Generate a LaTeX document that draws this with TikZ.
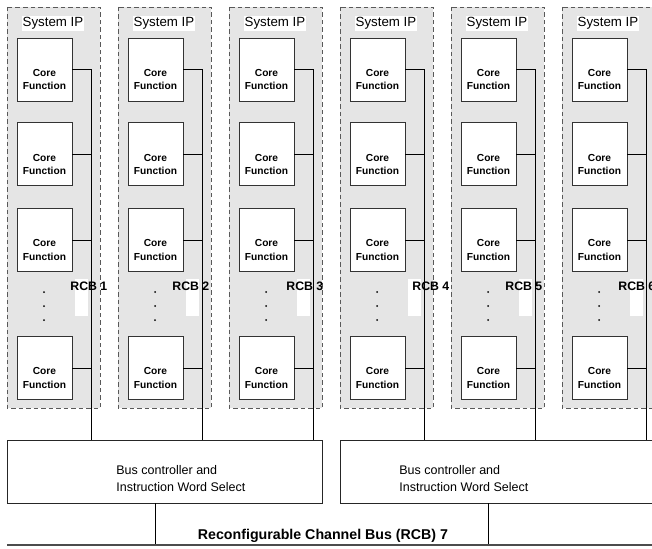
\documentclass[tikz,border=0pt]{standalone}
\usepackage{fontspec}
\setmainfont{Liberation Sans}
\usetikzlibrary{positioning}

\begin{document}
\begin{tikzpicture}[x=1pt,y=-1pt,line width=0.8pt,node distance=21pt,
    sys box/.style={draw=black!65,dash pattern=on 4.5pt off 3pt,fill=black!10},
    core node/.style={draw=black!80,fill=white,minimum width=55pt,minimum height=63pt,inner sep=0pt,
      label={[align=center,yshift=-10pt,font=\fontsize{10.2}{13.5}\selectfont\bfseries]center:Core\\Function}},
    sys label/.style={fill=white,inner sep=1pt,font=\fontsize{13.3}{14}\selectfont},
    rcb label/.style={anchor=west,inner sep=0pt,font=\fontsize{12.3}{14}\selectfont\bfseries},
    ctrl node/.style={draw=black!85,fill=white,minimum height=63pt,inner sep=0pt},
    ctrl text/.style={anchor=west,align=left,inner sep=0pt,font=\fontsize{12.5}{17}\selectfont}]

\useasboundingbox (0,0) rectangle (652,548);
\clip (0,0) rectangle (652,548);

% system IP columns
\foreach \i/\rcbx in {1/70,2/172,3/286,4/412,5/505,6/618}{
  \pgfmathsetmacro\xl{7+111*(\i-1)}
  \draw[sys box] (\xl,7) rectangle (\xl+93,408);
  \node[sys label] (sys-\i) at (\xl+46,23.5) {System IP};
  \coordinate (bus-\i) at (\xl+84,440);
  \fill[white] (\xl+68,279) rectangle (\xl+81,316);
  \node[core node] (cf-\i-1) at (\xl+37.5,69.5) {};
  \node[core node] (cf-\i-2) [below=of cf-\i-1] {};
  \node[core node] (cf-\i-3) [below=22pt of cf-\i-2] {};
  \node[core node] (cf-\i-4) [below=64pt of cf-\i-3] {};
  \draw (cf-\i-1.east) -| (bus-\i);
  \foreach \k in {2,3,4}
    \draw (cf-\i-\k.east) -- (cf-\i-\k.east -| bus-\i);
  \foreach \d in {292,306,320}
    \fill (\xl+37,\d) circle (1pt);
  \node[rcb label] (rcb-\i) at (\rcbx,286) {RCB \i};
}

% bus controllers
\node[ctrl node,minimum width=315pt] (ctrl-1) at (164.5,471.5) {};
\node[ctrl node,minimum width=320pt] (ctrl-2) at (500,471.5) {};
\node[ctrl text] (ctrl-1-text) at (116,478.5) {Bus controller and\\Instruction Word Select};
\node[ctrl text] (ctrl-2-text) at (399,478.5) {Bus controller and\\Instruction Word Select};

% channel bus
\coordinate (tap-1) at (155,545);
\coordinate (tap-2) at (488,545);
\coordinate (rcb7-w) at (7,545);
\coordinate (rcb7-e) at (652,545);
\draw (ctrl-1.south -| tap-1) -- (tap-1);
\draw (ctrl-2.south -| tap-2) -- (tap-2);
\draw[black!70,line width=1.6pt] (rcb7-w) -- (rcb7-e);
\node[inner sep=0pt,font=\fontsize{14.2}{15}\selectfont\bfseries] (rcb-7) at (323,536) {Reconfigurable Channel Bus (RCB) 7};
\end{tikzpicture}
\end{document}
